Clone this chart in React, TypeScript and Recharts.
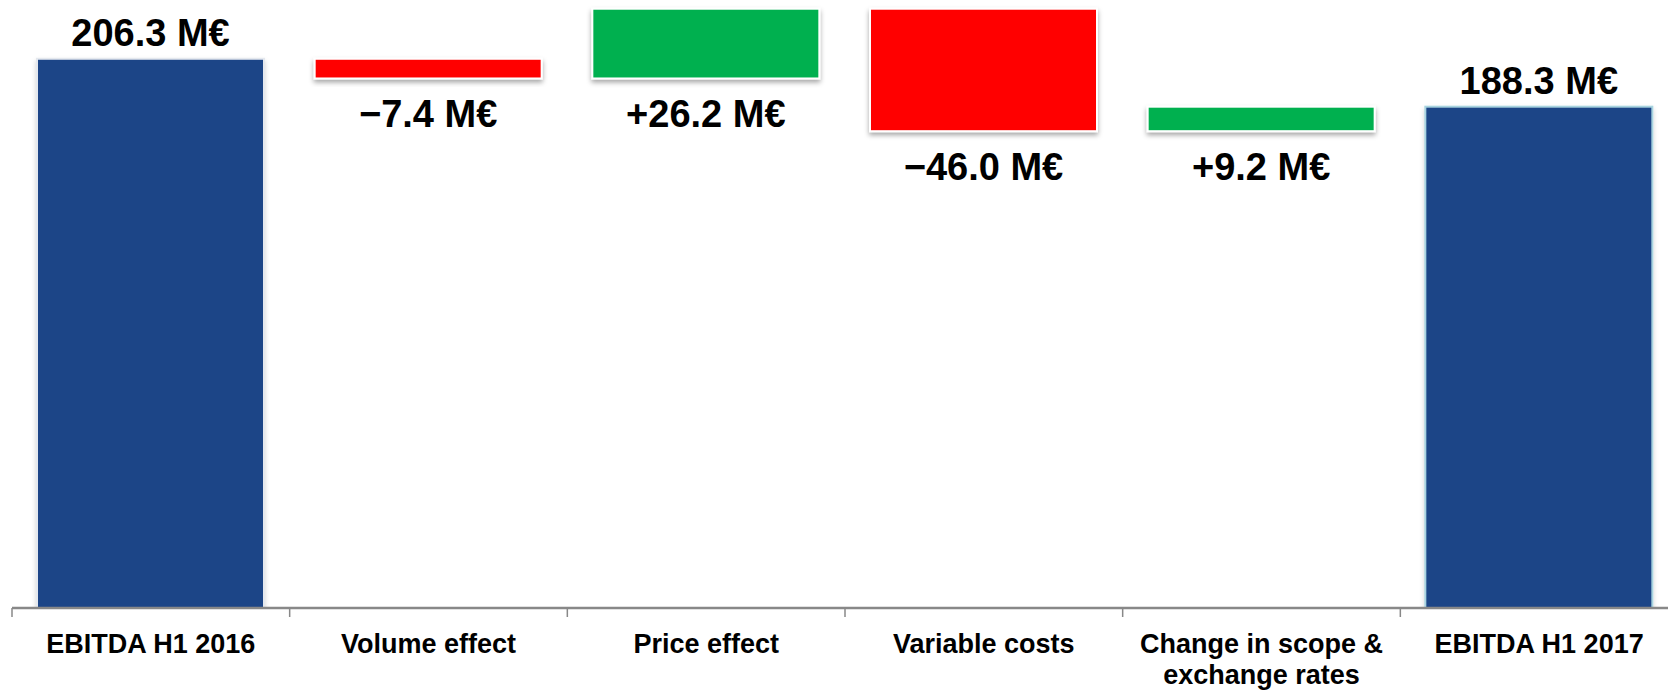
import React from "react";
import { BarChart, Bar, XAxis, YAxis, LabelList } from "recharts";

const categories = [
  "EBITDA H1 2016",
  "Volume effect",
  "Price effect",
  "Variable costs",
  "Change in scope &\nexchange rates",
  "EBITDA H1 2017",
];
const changes = [206.3, -7.4, 26.2, -46.0, 9.2, 188.3];
const kinds = ["total", "delta", "delta", "delta", "delta", "total"];

const COLORS = { total: "#1E4487", up: "#00B050", down: "#FF0000" };
const FONT = "'Liberation Sans', Arial, Helvetica, sans-serif";
const AXIS_GREY = "#888888";

const formatValue = (v: number, kind: string) => {
  const abs = Math.abs(v).toFixed(1);
  if (kind === "total") return `${abs} M€`;
  return `${v < 0 ? "\u2212" : "+"}${abs} M€`;
};

let running = 0;
const data = categories.map((name, i) => {
  const kind = kinds[i];
  let range: number[];
  if (kind === "total") {
    range = [0, changes[i]];
    running = changes[i];
  } else {
    const start = running;
    running = +(running + changes[i]).toFixed(2);
    range = [Math.min(start, running), Math.max(start, running)];
  }
  return { name, idx: i, range, kind, change: changes[i], label: formatValue(changes[i], kind) };
});

const BarShape = (props: any) => {
  const { x, y, width, height, index } = props;
  const d = data[index];
  const top = height < 0 ? y + height : y;
  const h = Math.abs(height);
  const fill = d.kind === "total" ? COLORS.total : d.change < 0 ? COLORS.down : COLORS.up;
  const stroke = d.kind === "total" ? (index === 0 ? "#e4e8ee" : "#a8d4e0") : "#ffffff";
  const fid = `shadow-${index}`;
  return (
    <g>
      <defs>
        <filter id={fid} x="-10%" y="-20%" width="120%" height="160%">
          <feDropShadow dx="0" dy="3" stdDeviation="2.5" floodColor="#000" floodOpacity={d.kind === "total" ? 0.18 : 0.35} />
        </filter>
      </defs>
      <rect x={x} y={top} width={width} height={h} fill={fill} stroke={stroke} strokeWidth={2} filter={`url(#${fid})`} />
    </g>
  );
};

const ValueLabel = (props: any) => {
  const { x, y, width, height, index } = props;
  const d = data[index];
  const top = height < 0 ? y + height : y;
  const h = Math.abs(height);
  const cx = x + width / 2;
  const ty = d.kind === "total" ? top - 13 : top + h + 49;
  return (
    <text x={cx} y={ty} textAnchor="middle" fontFamily={FONT} fontWeight="bold" fontSize={38} fill="#000">
      {d.label}
    </text>
  );
};

const CategoryTick = (props: any) => {
  const { x, y, payload, width, visibleTicksCount, index } = props;
  const lines = String(payload.value).split("\n");
  let bw = 0;
  if (width && visibleTicksCount) bw = width / visibleTicksCount;
  else if (payload && payload.offset) bw = payload.offset * 2;
  const left = x - bw / 2;
  const right = x + bw / 2;
  const isLast = visibleTicksCount ? index === visibleTicksCount - 1 : false;
  return (
    <g>
      <line x1={left} x2={left} y1={y} y2={y + 9} stroke={AXIS_GREY} strokeWidth={1.5} />
      {isLast && <line x1={right} x2={right} y1={y} y2={y + 9} stroke={AXIS_GREY} strokeWidth={1.5} />}
      <text x={x} y={y} textAnchor="middle" fontFamily={FONT} fontWeight="bold" fontSize={27} fill="#000">
        {lines.map((l, i) => (
          <tspan key={i} x={x} dy={i === 0 ? 45 : 31}>
            {l}
          </tspan>
        ))}
      </text>
    </g>
  );
};

export default function App() {
  return (
    <div style={{ position: "fixed", left: 0, top: 0, width: 1668, height: 690, overflow: "hidden", background: "#fff" }}>
      <BarChart width={1680} height={690} data={data} margin={{ top: 1, right: 2, left: 12, bottom: 0 }}>
        <XAxis
          dataKey="name"
          height={82}
          axisLine={{ stroke: AXIS_GREY, strokeWidth: 2.5 }}
          tickLine={false}
          tickSize={0}
          tickMargin={0}
          interval={0}
          tick={<CategoryTick />}
        />
        <YAxis hide domain={[0, 228]} allowDataOverflow />
        <Bar dataKey="range" barSize={227} isAnimationActive={false} shape={<BarShape />}>
          <LabelList dataKey="label" content={<ValueLabel />} />
        </Bar>
      </BarChart>
    </div>
  );
}
